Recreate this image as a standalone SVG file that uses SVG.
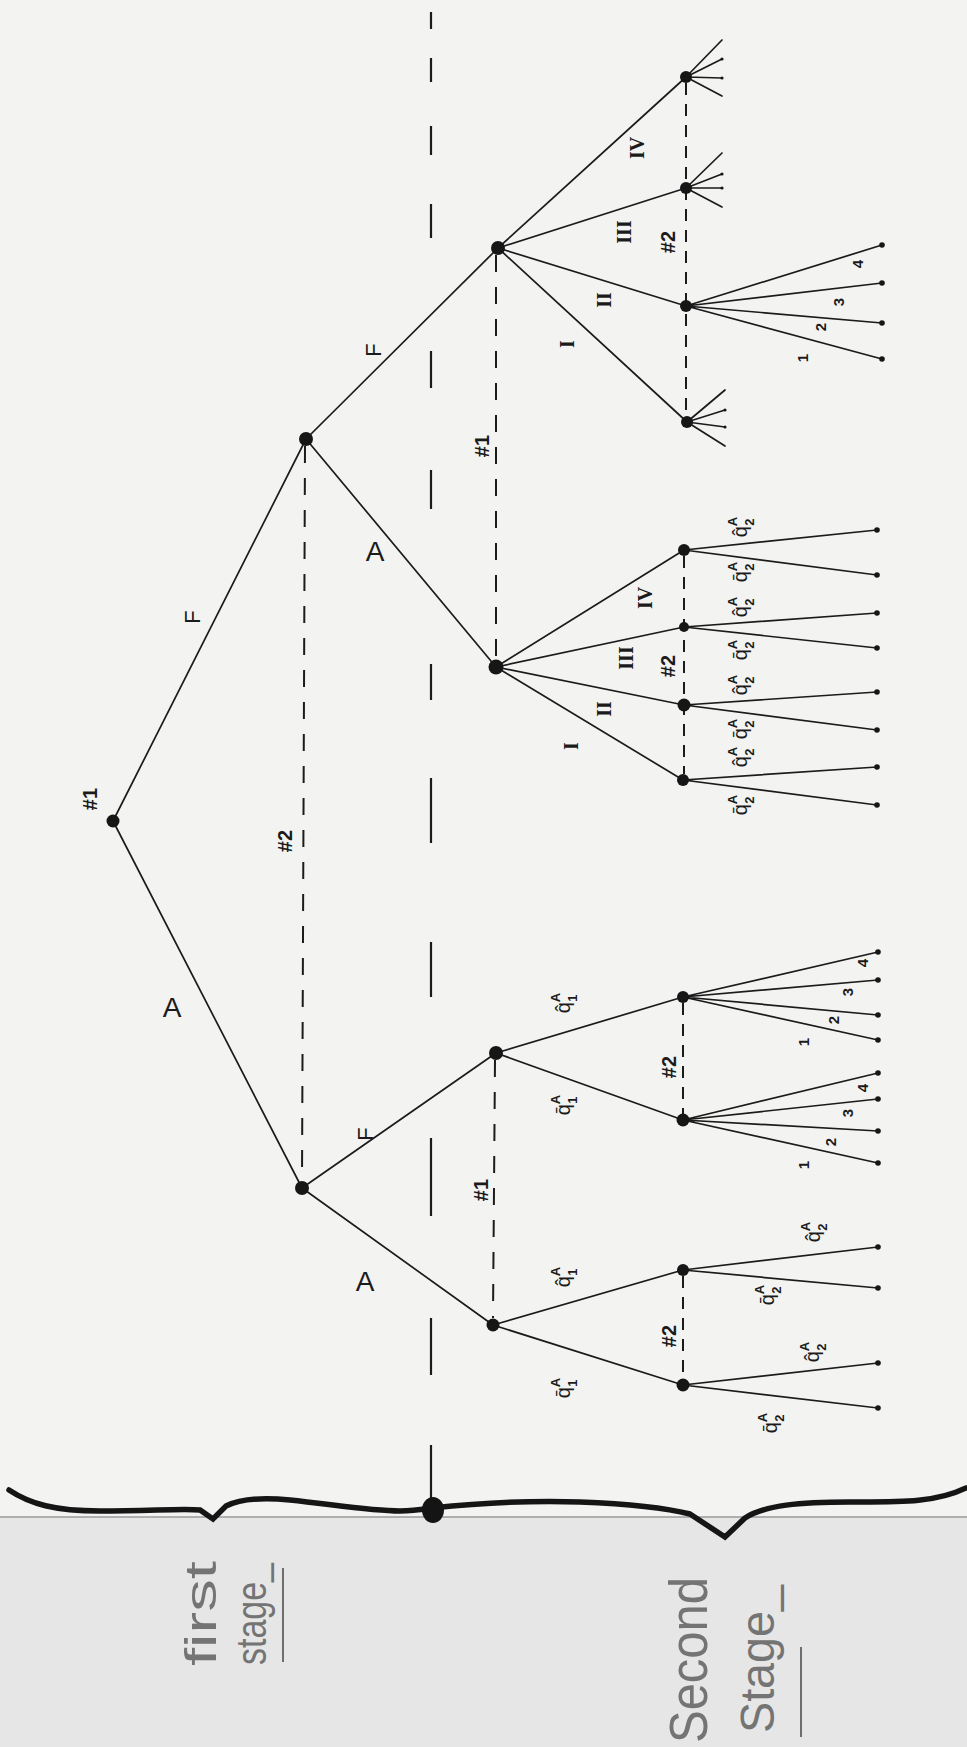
<svg xmlns="http://www.w3.org/2000/svg" width="967" height="1747" viewBox="0 0 967 1747">
<style>
.e{stroke:#1b1b1b;stroke-width:1.7;fill:none;stroke-linecap:round}
.d1{stroke:#1b1b1b;stroke-width:2;fill:none;stroke-dasharray:17 15}
.d2{stroke:#1b1b1b;stroke-width:2;fill:none;stroke-dasharray:12 9}
.dl{stroke:#1b1b1b;stroke-width:2.2;fill:none}
.br{stroke:#151515;stroke-width:5.5;fill:none;stroke-linecap:round;stroke-linejoin:miter}
.n{fill:#161616}
.lf{fill:#161616}
.t{font-family:"Liberation Sans","DejaVu Sans",sans-serif;fill:#1b1b1b}
.c{dominant-baseline:central;text-anchor:middle}
.hs{font-size:20px;font-weight:bold}
.fl{font-size:22px}
.al{font-size:28px}
.rn{font-family:"Liberation Serif","DejaVu Serif",serif;font-size:20px;font-weight:bold;fill:#1b1b1b}
.nm{font-size:15px;font-weight:bold}
.q{font-size:20px;text-anchor:middle}
.s{font-size:13px;font-weight:bold}
.pen{font-family:"Liberation Sans","DejaVu Sans",sans-serif;fill:#747474;font-weight:normal}
.ul{stroke:#6e6e6e;stroke-width:2;fill:none}
</style>

<rect x="0" y="0" width="967" height="1747" fill="#f3f3f2"/>
<rect x="0" y="1517" width="967" height="230" fill="#e6e6e6"/>
<line x1="0" y1="1517" x2="967" y2="1517" stroke="#9a9a9a" stroke-width="1.5"/>

<g id="connectors">
  <path class="dl" d="M431 12V29M431 58V82M431 126V155M431 204V238M431 351V388M431 470V509M431 664V700M431 778V843M431 942V997M431 1138V1216M431 1318V1375M431 1445V1505"/>
  <line class="d1" x1="305" y1="446" x2="302" y2="1182"/>
  <line class="d1" x1="496" y1="255" x2="496" y2="660"/>
  <line class="d1" x1="495" y1="1060" x2="493" y2="1318"/>
  <line class="d2" x1="686" y1="83" x2="686" y2="416"/>
  <line class="d2" x1="684" y1="556" x2="684" y2="774"/>
  <line class="d2" x1="683" y1="1003" x2="683" y2="1114"/>
  <line class="d2" x1="683" y1="1276" x2="683" y2="1379"/>
  <path class="e" d="M113 821L306 439M113 821L302 1188M306 439L498 248M306 439L496 667M302 1188L496 1053M302 1188L493 1325"/>
  <path class="e" d="M498 248L686 77M498 248L686 188M498 248L686 306M498 248L687 422"/>
  <path class="e" d="M496 667L684 550M496 667L684 627M496 667L684 705M496 667L683 780"/>
  <path class="e" d="M496 1053L683 997M496 1053L683 1120M493 1325L683 1270M493 1325L683 1385"/>
  <path class="e" d="M686 77L722 40M686 77L722 59M686 77L722 78M686 77L722 96"/>
  <path class="e" d="M686 188L722 153M686 188L722 174M686 188L722 188M686 188L722 207"/>
  <path class="e" d="M687 422L725 390M687 422L725 410M687 422L725 427M687 422L725 446"/>
  <path class="e" d="M686 306L882 245M686 306L882 283M686 306L882 323M686 306L882 359"/>
  <path class="e" d="M684 550L877 530M684 550L877 575M684 627L877 613M684 627L877 648M684 705L877 692M684 705L877 730M683 780L877 767M683 780L877 805"/>
  <path class="e" d="M683 997L878 952M683 997L878 980M683 997L878 1015M683 997L878 1040"/>
  <path class="e" d="M683 1120L878 1073M683 1120L878 1099M683 1120L878 1131M683 1120L878 1163"/>
  <path class="e" d="M683 1270L878 1247M683 1270L878 1288M683 1385L878 1363M683 1385L878 1408"/>
</g>

<g id="leaves">
  <circle class="lf" cx="722" cy="59" r="1.6"/><circle class="lf" cx="722" cy="78" r="1.6"/>
  <circle class="lf" cx="722" cy="174" r="1.6"/><circle class="lf" cx="722" cy="188" r="1.6"/>
  <circle class="lf" cx="725" cy="410" r="1.6"/><circle class="lf" cx="725" cy="427" r="1.6"/>
  <circle class="lf" cx="882" cy="245" r="2.8"/><circle class="lf" cx="882" cy="283" r="2.8"/><circle class="lf" cx="882" cy="323" r="2.8"/><circle class="lf" cx="882" cy="359" r="2.8"/>
  <circle class="lf" cx="877" cy="530" r="2.8"/><circle class="lf" cx="877" cy="575" r="2.8"/><circle class="lf" cx="877" cy="613" r="2.8"/><circle class="lf" cx="877" cy="648" r="2.8"/>
  <circle class="lf" cx="877" cy="692" r="2.8"/><circle class="lf" cx="877" cy="730" r="2.8"/><circle class="lf" cx="877" cy="767" r="2.8"/><circle class="lf" cx="877" cy="805" r="2.8"/>
  <circle class="lf" cx="878" cy="952" r="2.8"/><circle class="lf" cx="878" cy="980" r="2.8"/><circle class="lf" cx="878" cy="1015" r="2.8"/><circle class="lf" cx="878" cy="1040" r="2.8"/>
  <circle class="lf" cx="878" cy="1073" r="2.8"/><circle class="lf" cx="878" cy="1099" r="2.8"/><circle class="lf" cx="878" cy="1131" r="2.8"/><circle class="lf" cx="878" cy="1163" r="2.8"/>
  <circle class="lf" cx="878" cy="1247" r="2.8"/><circle class="lf" cx="878" cy="1288" r="2.8"/><circle class="lf" cx="878" cy="1363" r="2.8"/><circle class="lf" cx="878" cy="1408" r="2.8"/>
</g>

<g id="node-root"><circle class="n" cx="113" cy="821" r="6.5"/><text class="t c hs" transform="translate(90,799) rotate(-90)">#1</text></g>
<g id="node-F"><circle class="n" cx="306" cy="439" r="7"/></g>
<g id="node-A"><circle class="n" cx="302" cy="1188" r="7"/></g>
<g id="node-FF"><circle class="n" cx="498" cy="248" r="7"/></g>
<g id="node-FA"><circle class="n" cx="496" cy="667" r="7.5"/></g>
<g id="node-AF"><circle class="n" cx="496" cy="1053" r="7"/></g>
<g id="node-AA"><circle class="n" cx="493" cy="1325" r="6.5"/></g>
<g id="node-FF-IV"><circle class="n" cx="686" cy="77" r="6"/></g>
<g id="node-FF-III"><circle class="n" cx="686" cy="188" r="6"/></g>
<g id="node-FF-II"><circle class="n" cx="686" cy="306" r="6"/></g>
<g id="node-FF-I"><circle class="n" cx="687" cy="422" r="6"/></g>
<g id="node-FA-IV"><circle class="n" cx="684" cy="550" r="6"/></g>
<g id="node-FA-III"><circle class="n" cx="684" cy="627" r="5"/></g>
<g id="node-FA-II"><circle class="n" cx="684" cy="705" r="6.5"/></g>
<g id="node-FA-I"><circle class="n" cx="683" cy="780" r="6"/></g>
<g id="node-AF-hat"><circle class="n" cx="683" cy="997" r="6"/></g>
<g id="node-AF-bar"><circle class="n" cx="683" cy="1120" r="6.5"/></g>
<g id="node-AA-hat"><circle class="n" cx="683" cy="1270" r="6"/></g>
<g id="node-AA-bar"><circle class="n" cx="683" cy="1385" r="6.5"/></g>

<g id="labels">
  <text class="t c hs" transform="translate(285,841) rotate(-90)">#2</text>
  <text class="t c hs" transform="translate(482,446) rotate(-90)">#1</text>
  <text class="t c hs" transform="translate(481,1190) rotate(-90)">#1</text>
  <text class="t c hs" transform="translate(668,242) rotate(-90)">#2</text>
  <text class="t c hs" transform="translate(668,666) rotate(-90)">#2</text>
  <text class="t c hs" transform="translate(669,1067) rotate(-90)">#2</text>
  <text class="t c hs" transform="translate(669,1336) rotate(-90)">#2</text>
  <text class="t c fl" transform="translate(192,617) rotate(-90)">F</text>
  <text class="t c fl" transform="translate(373,350) rotate(-90)">F</text>
  <text class="t c fl" transform="translate(365,1134) rotate(-90)">F</text>
  <text class="t c al" x="172" y="1007">A</text>
  <text class="t c al" x="375" y="551">A</text>
  <text class="t c al" x="365" y="1281">A</text>
  <text class="rn c" transform="translate(637,148) rotate(-90)">IV</text>
  <text class="rn c" transform="translate(624,232) rotate(-90)">III</text>
  <text class="rn c" transform="translate(604,300) rotate(-90)">II</text>
  <text class="rn c" transform="translate(567,344) rotate(-90)">I</text>
  <text class="rn c" transform="translate(645,598) rotate(-90)">IV</text>
  <text class="rn c" transform="translate(626,658) rotate(-90)">III</text>
  <text class="rn c" transform="translate(604,709) rotate(-90)">II</text>
  <text class="rn c" transform="translate(571,746) rotate(-90)">I</text>
  <text class="t c nm" transform="translate(857,264) rotate(-90)">4</text>
  <text class="t c nm" transform="translate(838,302) rotate(-90)">3</text>
  <text class="t c nm" transform="translate(820,327) rotate(-90)">2</text>
  <text class="t c nm" transform="translate(802,358) rotate(-90)">1</text>
  <text class="t c nm" transform="translate(862,963) rotate(-90)">4</text>
  <text class="t c nm" transform="translate(847,992) rotate(-90)">3</text>
  <text class="t c nm" transform="translate(833,1020) rotate(-90)">2</text>
  <text class="t c nm" transform="translate(803,1042) rotate(-90)">1</text>
  <text class="t c nm" transform="translate(862,1088) rotate(-90)">4</text>
  <text class="t c nm" transform="translate(847,1113) rotate(-90)">3</text>
  <text class="t c nm" transform="translate(830,1142) rotate(-90)">2</text>
  <text class="t c nm" transform="translate(803,1165) rotate(-90)">1</text>
  <text class="t q" transform="translate(570,1003) rotate(-90)">q̂<tspan class="s" dy="-10">A</tspan><tspan class="s" dx="-9" dy="17">1</tspan></text>
  <text class="t q" transform="translate(570,1105) rotate(-90)">q̄<tspan class="s" dy="-10">A</tspan><tspan class="s" dx="-9" dy="17">1</tspan></text>
  <text class="t q" transform="translate(570,1277) rotate(-90)">q̂<tspan class="s" dy="-10">A</tspan><tspan class="s" dx="-9" dy="17">1</tspan></text>
  <text class="t q" transform="translate(570,1388) rotate(-90)">q̄<tspan class="s" dy="-10">A</tspan><tspan class="s" dx="-9" dy="17">1</tspan></text>
  <text class="t q" transform="translate(820,1232) rotate(-90)">q̂<tspan class="s" dy="-10">A</tspan><tspan class="s" dx="-9" dy="17">2</tspan></text>
  <text class="t q" transform="translate(774,1295) rotate(-90)">q̄<tspan class="s" dy="-10">A</tspan><tspan class="s" dx="-9" dy="17">2</tspan></text>
  <text class="t q" transform="translate(819,1352) rotate(-90)">q̂<tspan class="s" dy="-10">A</tspan><tspan class="s" dx="-9" dy="17">2</tspan></text>
  <text class="t q" transform="translate(777,1423) rotate(-90)">q̄<tspan class="s" dy="-10">A</tspan><tspan class="s" dx="-9" dy="17">2</tspan></text>
  <text class="t q" transform="translate(747,527) rotate(-90)">q̂<tspan class="s" dy="-10">A</tspan><tspan class="s" dx="-9" dy="17">2</tspan></text>
  <text class="t q" transform="translate(747,572) rotate(-90)">q̄<tspan class="s" dy="-10">A</tspan><tspan class="s" dx="-9" dy="17">2</tspan></text>
  <text class="t q" transform="translate(747,607) rotate(-90)">q̂<tspan class="s" dy="-10">A</tspan><tspan class="s" dx="-9" dy="17">2</tspan></text>
  <text class="t q" transform="translate(747,650) rotate(-90)">q̄<tspan class="s" dy="-10">A</tspan><tspan class="s" dx="-9" dy="17">2</tspan></text>
  <text class="t q" transform="translate(747,685) rotate(-90)">q̂<tspan class="s" dy="-10">A</tspan><tspan class="s" dx="-9" dy="17">2</tspan></text>
  <text class="t q" transform="translate(747,729) rotate(-90)">q̄<tspan class="s" dy="-10">A</tspan><tspan class="s" dx="-9" dy="17">2</tspan></text>
  <text class="t q" transform="translate(747,757) rotate(-90)">q̂<tspan class="s" dy="-10">A</tspan><tspan class="s" dx="-9" dy="17">2</tspan></text>
  <text class="t q" transform="translate(747,805) rotate(-90)">q̄<tspan class="s" dy="-10">A</tspan><tspan class="s" dx="-9" dy="17">2</tspan></text>
</g>

<g id="stage-brackets">
  <path class="br" d="M9 1490C30 1504 55 1511 100 1511C150 1511 185 1508 200 1510L213 1519L226 1506C240 1499 260 1497 290 1500C330 1504 370 1511 400 1511C415 1511 425 1509 432 1508"/>
  <path class="br" d="M432 1508C470 1504 520 1500 580 1502C630 1504 670 1509 690 1514L725 1537L745 1518C765 1505 800 1502 850 1502C900 1502 935 1503 966 1488"/>
  <ellipse cx="433" cy="1510" rx="11" ry="13" fill="#141414"/>
</g>

<g id="stage-labels">
  <text class="pen" font-size="44" transform="translate(216,1666) rotate(-90)" textLength="105" lengthAdjust="spacingAndGlyphs">first</text>
  <text class="pen" font-size="42" transform="translate(266,1665) rotate(-90)" textLength="102" lengthAdjust="spacingAndGlyphs">stage_</text>
  <line class="ul" x1="283" y1="1568" x2="283" y2="1662"/>
  <text class="pen" font-size="54" transform="translate(707,1743) rotate(-90)" textLength="166" lengthAdjust="spacingAndGlyphs">Second</text>
  <text class="pen" font-size="48" transform="translate(774,1733) rotate(-90)" textLength="148" lengthAdjust="spacingAndGlyphs">Stage_</text>
  <line class="ul" x1="801" y1="1647" x2="801" y2="1737"/>
</g>
</svg>
